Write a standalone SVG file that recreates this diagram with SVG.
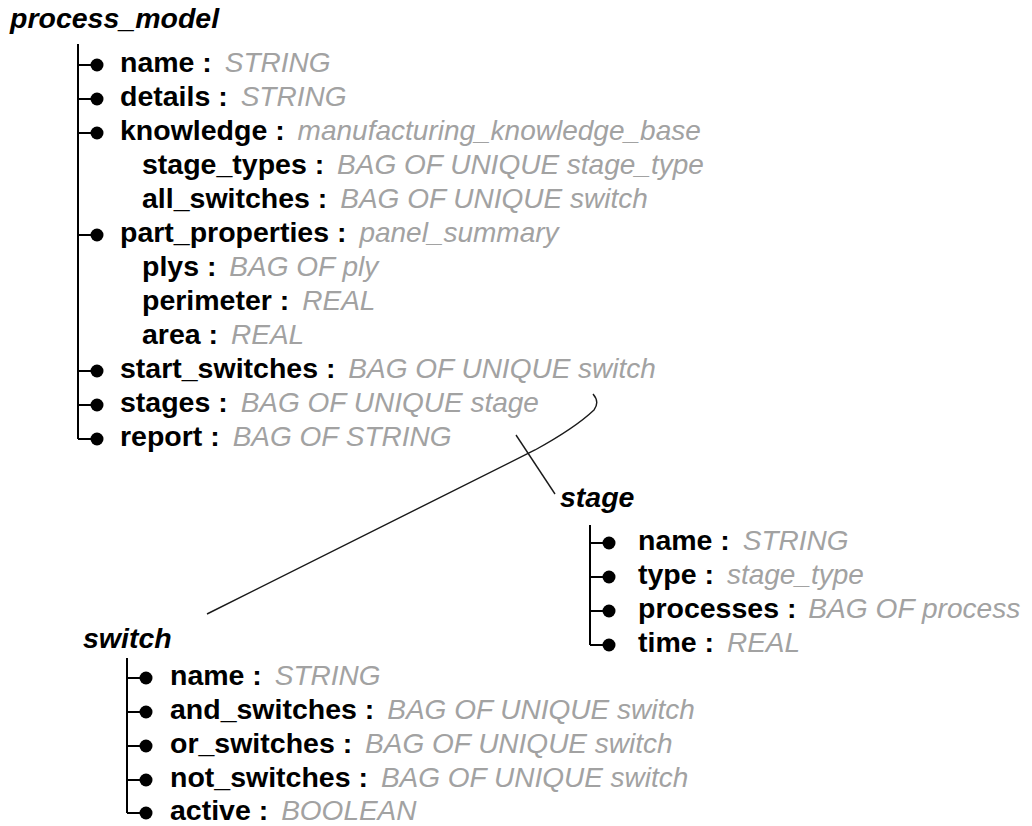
<svg xmlns="http://www.w3.org/2000/svg" width="1032" height="826" viewBox="0 0 1032 826">
  <style>
    text { font-family: "Liberation Sans", Arial, sans-serif; }
    .title { font-size: 28.5px; font-weight: bold; font-style: italic; fill: #000; }
    .b { font-size: 28.5px; font-weight: bold; fill: #000; }
    .g { font-size: 28px; font-style: italic; font-weight: normal; fill: #a2a2a2; }
    .tree { fill: none; stroke: #000; stroke-width: 2; }
    .dot { fill: #000; }
    .link { fill: none; stroke: #1a1a1a; stroke-width: 1.4; }
  </style>
  <defs>
    <!-- attribute marker: short stub from the spine ending in a filled dot -->
    <g id="item">
      <line x1="0" y1="0" x2="19" y2="0" stroke="#000" stroke-width="2"/>
      <circle cx="19" cy="0" r="6.5" class="dot"/>
    </g>
  </defs>

  <!-- entity: process_model -->
  <g id="process_model">
    <text class="title" x="10" y="28">process_model</text>
    <path class="tree" d="M78,44 V439"/>
    <use href="#item" x="78" y="65"/>
    <use href="#item" x="78" y="99"/>
    <use href="#item" x="78" y="133"/>
    <use href="#item" x="78" y="235"/>
    <use href="#item" x="78" y="371"/>
    <use href="#item" x="78" y="405"/>
    <use href="#item" x="78" y="439"/>
    <text x="120" y="72"><tspan class="b">name : </tspan><tspan class="g" dx="5">STRING</tspan></text>
    <text x="120" y="106"><tspan class="b">details : </tspan><tspan class="g" dx="5">STRING</tspan></text>
    <text x="120" y="140"><tspan class="b">knowledge : </tspan><tspan class="g" dx="5">manufacturing_knowledge_base</tspan></text>
    <text x="142" y="174"><tspan class="b">stage_types : </tspan><tspan class="g" dx="5">BAG OF UNIQUE stage_type</tspan></text>
    <text x="142" y="208"><tspan class="b">all_switches : </tspan><tspan class="g" dx="5">BAG OF UNIQUE switch</tspan></text>
    <text x="120" y="242"><tspan class="b">part_properties : </tspan><tspan class="g" dx="5">panel_summary</tspan></text>
    <text x="142" y="276"><tspan class="b">plys : </tspan><tspan class="g" dx="5">BAG OF ply</tspan></text>
    <text x="142" y="310"><tspan class="b">perimeter : </tspan><tspan class="g" dx="5">REAL</tspan></text>
    <text x="142" y="344"><tspan class="b">area : </tspan><tspan class="g" dx="5">REAL</tspan></text>
    <text x="120" y="378"><tspan class="b">start_switches : </tspan><tspan class="g" dx="5">BAG OF UNIQUE switch</tspan></text>
    <text x="120" y="412"><tspan class="b">stages : </tspan><tspan class="g" dx="5">BAG OF UNIQUE stage</tspan></text>
    <text x="120" y="446"><tspan class="b">report : </tspan><tspan class="g" dx="5">BAG OF STRING</tspan></text>
  </g>

  <!-- entity: stage -->
  <g id="stage">
    <text class="title" x="560" y="507">stage</text>
    <path class="tree" d="M590,525 V645"/>
    <use href="#item" x="590" y="543"/>
    <use href="#item" x="590" y="577"/>
    <use href="#item" x="590" y="611"/>
    <use href="#item" x="590" y="645"/>
    <text x="638" y="550"><tspan class="b">name : </tspan><tspan class="g" dx="5">STRING</tspan></text>
    <text x="638" y="584"><tspan class="b">type : </tspan><tspan class="g" dx="5">stage_type</tspan></text>
    <text x="638" y="618"><tspan class="b">processes : </tspan><tspan class="g" dx="4" textLength="212" lengthAdjust="spacingAndGlyphs">BAG OF process</tspan></text>
    <text x="638" y="652"><tspan class="b">time : </tspan><tspan class="g" dx="5">REAL</tspan></text>
  </g>

  <!-- entity: switch -->
  <g id="switch">
    <text class="title" x="83" y="648">switch</text>
    <path class="tree" d="M127,658 V813"/>
    <use href="#item" x="127" y="678"/>
    <use href="#item" x="127" y="712"/>
    <use href="#item" x="127" y="746"/>
    <use href="#item" x="127" y="780"/>
    <use href="#item" x="127" y="813"/>
    <text x="170" y="685"><tspan class="b">name : </tspan><tspan class="g" dx="5">STRING</tspan></text>
    <text x="170" y="719"><tspan class="b">and_switches : </tspan><tspan class="g" dx="5">BAG OF UNIQUE switch</tspan></text>
    <text x="170" y="753"><tspan class="b">or_switches : </tspan><tspan class="g" dx="5">BAG OF UNIQUE switch</tspan></text>
    <text x="170" y="787"><tspan class="b">not_switches : </tspan><tspan class="g" dx="5">BAG OF UNIQUE switch</tspan></text>
    <text x="170" y="820"><tspan class="b">active : </tspan><tspan class="g" dx="5">BOOLEAN</tspan></text>
  </g>

  <!-- relationships -->
  <g id="connectors">
    <path class="link" d="M516,435 L555,494"/>
    <path class="link" d="M593,394 Q600,402 594,410 Q575,428 535,450 L207,614"/>
  </g>
</svg>
